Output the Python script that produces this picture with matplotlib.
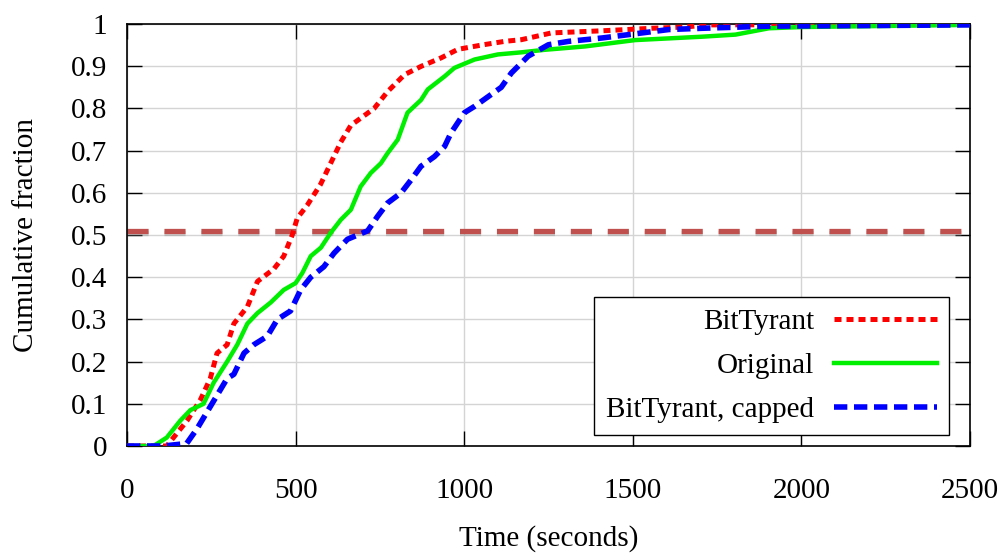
import matplotlib
matplotlib.use('Agg')
import matplotlib.pyplot as plt
import matplotlib.patheffects as pe

plt.rcParams['font.family'] = ['Liberation Serif', 'DejaVu Serif']

# BitTyrant
bt_t = [0, 118, 138, 178, 218, 247, 267, 297, 317, 357, 387, 436, 465, 490, 505, 534,
        574, 604, 634, 664, 733, 773, 823, 873, 932, 981, 1050, 1120, 1170, 1259, 1408,
        1557, 1657, 1720, 2500]
bt_f = [0, 0, 0.02, 0.06, 0.11, 0.16, 0.22, 0.24, 0.29, 0.33, 0.39, 0.42, 0.45, 0.50, 0.54, 0.57,
        0.62, 0.67, 0.72, 0.76, 0.80, 0.84, 0.88, 0.90, 0.92, 0.94, 0.95, 0.959, 0.963, 0.979, 0.984,
        0.99, 0.993, 0.998, 0.999]

# Original
orig_t = [0, 79, 118, 158, 188, 227, 257, 297, 327, 357, 387, 426, 465, 500, 520, 545,
          575, 604, 634, 664, 693, 723, 753, 773, 803, 832, 872, 892, 942, 971, 1031, 1100,
          1170, 1239, 1359, 1507, 1705, 1805, 1904, 2003, 2300, 2500]
orig_f = [0, 0, 0.02, 0.06, 0.085, 0.10, 0.15, 0.20, 0.24, 0.29, 0.315, 0.34, 0.37, 0.386, 0.41, 0.45,
          0.47, 0.505, 0.536, 0.56, 0.615, 0.647, 0.67, 0.694, 0.726, 0.79, 0.82, 0.845, 0.876, 0.896, 0.916, 0.928,
          0.933, 0.939, 0.947, 0.962, 0.97, 0.975, 0.99, 0.993, 0.996, 0.998]

# BitTyrant, capped
cap_t = [0, 108, 177, 207, 237, 267, 297, 317, 347, 376, 416, 446, 485, 515, 545, 584,
         614, 654, 714, 743, 773, 813, 842, 872, 912, 942, 961, 1001, 1031, 1080, 1110,
         1140, 1190, 1250, 1310, 1409, 1508, 1607, 1706, 1904, 2500]
cap_f = [0, 0, 0.006, 0.04, 0.08, 0.12, 0.16, 0.17, 0.22, 0.24, 0.26, 0.30, 0.32, 0.37, 0.40, 0.425,
         0.457, 0.49, 0.51, 0.544, 0.576, 0.60, 0.63, 0.663, 0.686, 0.71, 0.742, 0.79, 0.805, 0.833, 0.85,
         0.884, 0.924, 0.951, 0.959, 0.967, 0.977, 0.987, 0.99, 0.995, 0.998]

median_level = 0.51

fig = plt.figure(figsize=(10.04, 5.53), dpi=100)
ax = fig.add_axes([0.1265, 0.1935, 0.8395, 0.763])

ax.axhline(median_level, color='#c0504d', lw=3.8, dashes=(4.0, 3.0), zorder=2,
           path_effects=[pe.SimpleLineShadow(offset=(0, -1.5), shadow_color='gray', alpha=0.35),
                         pe.Normal()])

ax.plot(bt_t, bt_f, color='#ff0000', lw=3.6, dashes=(1.4, 1.0), label='BitTyrant', zorder=3)
ax.plot(orig_t, orig_f, color='#00ee00', lw=3.2, label='Original', zorder=3)
ax.plot(cap_t, cap_f, color='#0000ff', lw=4, dashes=(2.4, 1.2), label='BitTyrant, capped', zorder=4)

ax.set_xlim(0, 2500)
ax.set_ylim(0, 1)
ax.set_xticks([0, 500, 1000, 1500, 2000, 2500])
ax.set_yticks([i / 10 for i in range(11)])
ax.set_yticklabels(['0', '0.1', '0.2', '0.3', '0.4', '0.5', '0.6', '0.7', '0.8', '0.9', '1'])
ax.tick_params(axis='both', direction='in', length=11, width=1, labelsize=21,
               top=True, right=True)
ax.tick_params(axis='x', pad=23)
ax.tick_params(axis='y', pad=14)
ax.grid(True, color='#d4d4d4', lw=1)
ax.set_axisbelow(True)
for s in ax.spines.values():
    s.set_linewidth(1.2)

ax.set_xlabel('Time (seconds)', fontsize=21, labelpad=15)
ax.set_ylabel('Cumulative fraction', fontsize=21, labelpad=23)

leg = ax.legend(loc='upper right', bbox_to_anchor=(0.975, 0.354), borderaxespad=0,
                markerfirst=False, fontsize=21, handlelength=3.5, handletextpad=0.7,
                labelspacing=0.6, fancybox=False, framealpha=1, edgecolor='black',
                borderpad=0.42)
leg.get_frame().set_linewidth(1)

fig.savefig('out.png', dpi=100)
